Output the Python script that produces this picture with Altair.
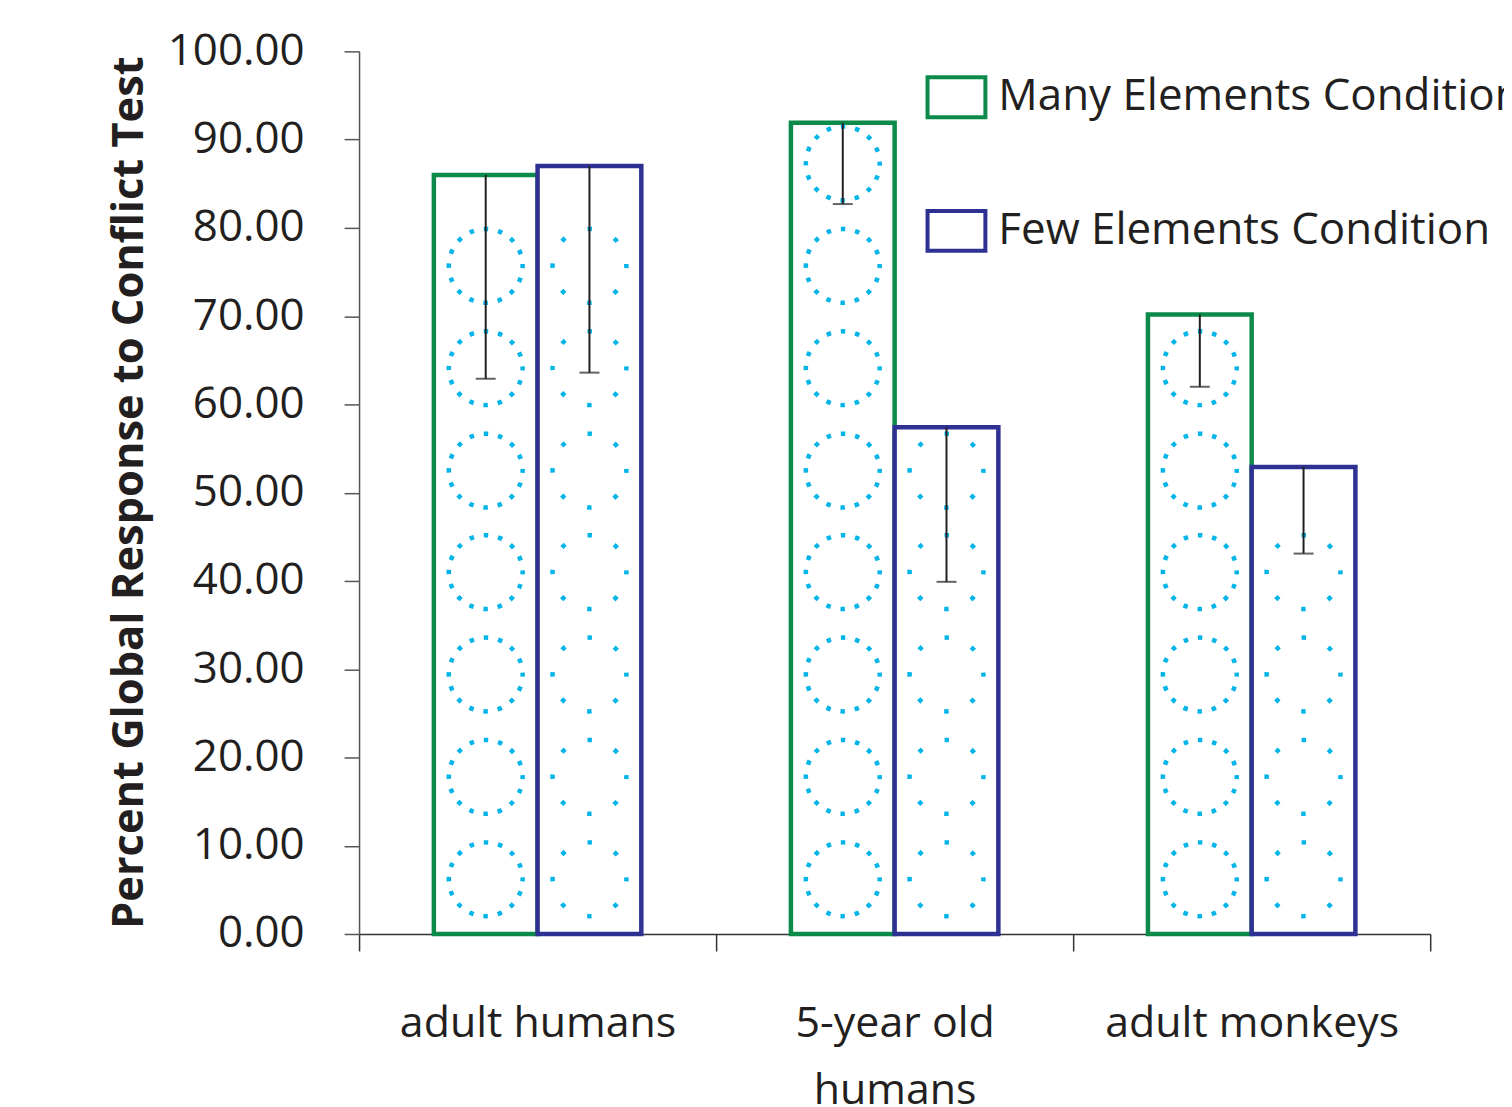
import altair as alt
import pandas as pd

groups = ["adult humans", "5-year old humans", "adult monkeys"]
conditions = ["Many Elements Condition", "Few Elements Condition"]
many_values = [86.0, 91.9, 70.2]
few_values = [87.0, 57.4, 52.9]
many_err_low = [62.9, 82.7, 62.0]
few_err_low = [63.6, 39.9, 43.1]
# centres of the decorative dotted-ring fill pattern (in axis units)
pattern_levels = [6.2, 17.8, 29.4, 41.0, 52.5, 64.1, 75.7, 87.3]
colors = ["#0b8a4a", "#2e3192"]
cyan = "#00b4e8"
FONT = "Open Sans"

rows = []
for i, g in enumerate(groups):
    rows.append({"group": g, "condition": conditions[0], "value": many_values[i], "low": many_err_low[i]})
    rows.append({"group": g, "condition": conditions[1], "value": few_values[i], "low": few_err_low[i]})
df = pd.DataFrame(rows)

prow = []
for r in rows:
    for lv in pattern_levels:
        if lv + 4.2 <= r["value"]:
            prow.append({"group": r["group"], "condition": r["condition"], "level": lv})
pdf = pd.DataFrame(prow)

x_enc = alt.X(
    "group:N",
    sort=groups,
    scale=alt.Scale(paddingInner=0, paddingOuter=0),
    axis=alt.Axis(
        title=None,
        labelAngle=0,
        tickBand="extent",
        tickSize=17,
        tickColor="#333333",
        domainColor="#333333",
        domainWidth=1.5,
        tickWidth=1.5,
        labelFont=FONT,
        labelFontSize=43,
        labelColor="#231f20",
        labelPadding=52,
        labelLimit=500,
        labelLineHeight=67,
        labelExpr="datum.value == '5-year old humans' ? ['5-year  old', 'humans'] : datum.label",
    ),
)
xoff = alt.XOffset("condition:N", sort=conditions,
                   scale=alt.Scale(domain=conditions, paddingInner=0, paddingOuter=0.721))

y_scale = alt.Scale(domain=[0, 100], nice=False)

bars = alt.Chart(df).mark_bar(fill="white", fillOpacity=1, strokeWidth=4.5, strokeJoin="miter").encode(
    x=x_enc,
    xOffset=xoff,
    y=alt.Y(
        "value:Q",
        scale=y_scale,
        axis=alt.Axis(
            title="Percent Global Response to Conflict Test",
            values=list(range(0, 101, 10)),
            format=".2f",
            grid=False,
            tickSize=15,
            tickColor="#555555",
            domainColor="#555555",
            domainWidth=1.5,
            tickWidth=1.5,
            labelFont=FONT,
            labelFontSize=44,
            labelColor="#231f20",
            labelPadding=40,
            titleFont=FONT,
            titleFontSize=43.5,
            titleFontWeight="bold",
            titleColor="#231f20",
            titleAngle=-90,
            titleX=-230,
            titleY=442,
            titleAlign="center",
            titleBaseline="middle",
        ),
    ),
    stroke=alt.Stroke(
        "condition:N",
        sort=conditions,
        scale=alt.Scale(domain=conditions, range=colors),
        legend=alt.Legend(
            title=None,
            orient="none",
            legendX=577,
            legendY=24,
            symbolType="M-1.45,-1H1.45V1H-1.45Z",
            symbolSize=1600,
            symbolStrokeWidth=4,
            symbolFillColor="white",
            labelFont=FONT,
            labelFontSize=44,
            labelColor="#231f20",
            labelOffset=20,
            labelLimit=1000,
            rowPadding=78,
        ),
    ),
)

many_rings = alt.Chart(pdf).transform_filter(
    alt.datum.condition == conditions[0]
).mark_point(shape="circle", filled=False, size=5476, stroke=cyan, strokeWidth=4.5,
             strokeDash=[4.5, 10.03], strokeDashOffset=2.25, opacity=1).encode(
    x=alt.X("group:N", sort=groups),
    xOffset=alt.XOffset("condition:N", sort=conditions),
    y=alt.Y("level:Q", scale=y_scale),
)

few_rings = alt.Chart(pdf).transform_filter(
    alt.datum.condition == conditions[1]
).mark_point(shape="circle", filled=False, size=5476, stroke=cyan, strokeWidth=4.5,
             strokeDash=[4.5, 24.56], strokeDashOffset=2.25, opacity=1).encode(
    x=alt.X("group:N", sort=groups),
    xOffset=alt.XOffset("condition:N", sort=conditions),
    y=alt.Y("level:Q", scale=y_scale),
)

err = alt.Chart(df).mark_rule(color="#231f20", strokeWidth=2).encode(
    x=alt.X("group:N", sort=groups),
    xOffset=alt.XOffset("condition:N", sort=conditions),
    y=alt.Y("low:Q", scale=y_scale),
    y2="value:Q",
)

caps = alt.Chart(df).mark_tick(color="#231f20", thickness=2, size=20, orient="horizontal").encode(
    x=alt.X("group:N", sort=groups),
    xOffset=alt.XOffset("condition:N", sort=conditions),
    y=alt.Y("low:Q", scale=y_scale),
)

chart = alt.layer(bars, many_rings, few_rings, err, caps).properties(
    width=1074,
    height=885,
    autosize=alt.AutoSizeParams(type="none"),
    padding={"left": 352, "top": 42, "right": 74, "bottom": 174},
).configure(background="white").configure_view(stroke=None)

chart.save("out.html", embed_options={"renderer": "svg", "actions": False})
